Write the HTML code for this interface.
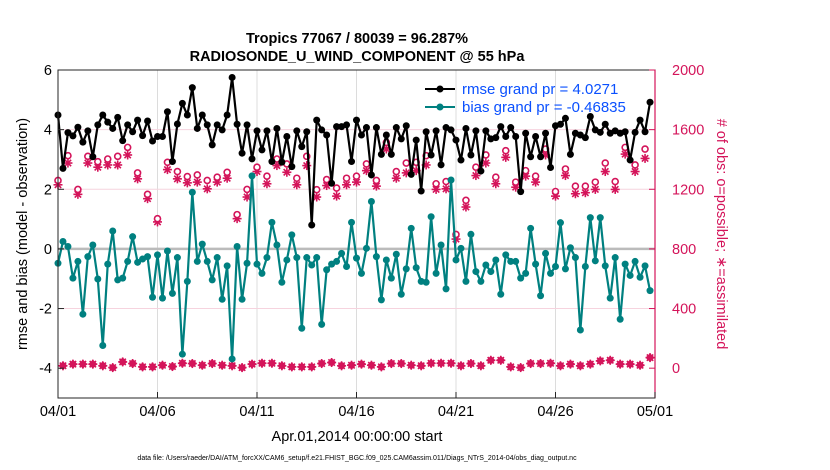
<!DOCTYPE html>
<html><head><meta charset="utf-8"><style>
body{margin:0;background:#fff;width:830px;height:470px;overflow:hidden}
svg{display:block;font-family:"Liberation Sans",sans-serif}
</style></head><body>
<svg id="chart" width="830" height="470" viewBox="0 0 830 470">
<g id="grid"></g>
<g id="series"></g>
<rect x="58" y="70" width="597" height="328" fill="none" stroke="#262626" stroke-width="1"/>
<line x1="655" y1="70" x2="655" y2="398" stroke="#d4145a" stroke-width="1.2"/>
<g id="axes"></g>
<text x="357" y="43" text-anchor="middle" font-size="14.5" font-weight="bold">Tropics 77067 / 80039 = 96.287%</text>
<text x="357" y="61" text-anchor="middle" font-size="14.5" font-weight="bold">RADIOSONDE_U_WIND_COMPONENT @ 55 hPa</text>
<text transform="translate(27,234) rotate(-90)" text-anchor="middle" font-size="14.5">rmse and bias (model - observation)</text>
<text transform="translate(717,234) rotate(90)" text-anchor="middle" font-size="14.5" fill="#d4145a"># of obs: o=possible; ∗=assimilated</text>
<text x="357" y="441" text-anchor="middle" font-size="14.5">Apr.01,2014 00:00:00 start</text>
<text x="357" y="460" text-anchor="middle" font-size="7">data file: /Users/raeder/DAI/ATM_forcXX/CAM6_setup/f.e21.FHIST_BGC.f09_025.CAM6assim.011/Diags_NTrS_2014-04/obs_diag_output.nc</text>
<g>
<line x1="425" y1="89" x2="455" y2="89" stroke="#000" stroke-width="2"/>
<circle cx="440" cy="89" r="3.5" fill="#000"/>
<text x="462" y="94" font-size="15" fill="#0a50ff">rmse grand pr = 4.0271</text>
<line x1="425" y1="107" x2="455" y2="107" stroke="#008080" stroke-width="2"/>
<circle cx="440" cy="107" r="3.5" fill="#008080"/>
<text x="462" y="112" font-size="15" fill="#0a50ff">bias grand pr = -0.46835</text>
</g>
</svg>
<script>
const rmse=[4.49,2.70,3.90,3.79,4.08,3.58,3.96,3.09,4.16,4.49,4.25,4.04,4.41,3.63,4.16,3.93,4.32,3.80,4.29,3.62,3.77,3.77,4.60,2.93,4.19,4.88,4.49,5.41,4.04,4.49,4.16,
3.49,4.16,3.99,4.49,5.75,4.18,3.21,4.16,3.02,3.96,3.32,3.96,2.93,4.04,2.91,3.77,2.76,3.96,3.43,3.93,0.80,4.32,3.99,3.82,2.20,4.10,4.10,4.16,2.93,4.32,
3.82,4.07,2.48,4.07,3.17,3.82,3.17,4.07,3.69,4.13,2.50,3.65,1.94,3.93,3.15,3.96,2.82,4.07,3.99,3.65,2.98,4.04,3.15,3.96,2.61,3.96,3.69,3.73,4.10,3.77,
4.07,3.77,1.92,3.88,3.09,3.77,3.09,3.88,2.73,4.13,4.18,4.38,3.17,3.88,3.82,3.73,4.44,3.99,3.91,4.18,3.88,3.96,3.88,3.93,2.98,3.91,4.32,3.93,4.92];
const bias=[-0.48,0.25,0.08,-0.98,-0.42,-2.19,-0.26,0.13,-1.01,-3.24,-0.51,0.60,-1.04,-0.98,-0.42,0.41,-0.45,-0.34,-0.26,-1.62,-0.20,-1.65,-0.07,-1.49,-0.29,-3.53,-1.09,1.90,-0.42,0.16,-0.42,
-1.04,-0.29,-1.69,-0.57,-3.69,0.08,-1.69,-0.48,2.45,-0.51,-0.82,-0.29,0.89,0.13,-1.12,-0.37,0.47,-0.29,-2.66,-0.29,-0.54,-0.29,-2.53,-0.70,-0.51,-0.42,-0.15,-0.59,0.89,-0.31,
-0.82,0.02,1.59,-0.26,-1.71,-0.37,-0.98,-0.18,-1.52,-0.67,0.69,-0.63,-1.09,-1.12,1.08,-0.82,0.13,-1.34,2.31,-0.37,0.02,-1.09,0.49,-0.76,-1.09,-0.54,-0.76,-0.37,-1.52,-0.20,
-0.42,-0.42,-0.98,-0.82,0.69,-0.51,-1.57,-0.15,-0.82,-0.59,0.88,-0.67,0.04,-0.29,-2.72,-0.59,1.05,-0.40,1.05,-0.57,-1.65,-0.29,-2.36,-0.51,-0.89,-0.42,-0.95,-0.57,-1.40];
// counts at 00Z/12Z (even index) and 06Z/18Z (odd index)
const possEven=[1259,1425,1199,1421,1385,1403,1421,1481,1310,1166,1003,1381,1319,1285,1296,1259,1281,1314,1030,1199,1348,1288,1403,1370,1274,1421,1197,1265,1208,1274,1288,1370,1259,1514,1319,1376,1381,1425,1237,1252,897,1126,1348,1430,1281,1459,1248,1325,1288,1470,1185,1336,1221,1221,1248,1376,1252,1481,1363,1470];
const assimEven=[1230,1376,1166,1376,1348,1363,1363,1430,1270,1137,981,1332,1270,1243,1248,1203,1248,1274,1003,1148,1319,1237,1359,1314,1230,1359,1148,1225,1154,1230,1248,1325,1221,1470,1274,1310,1325,1363,1199,1203,866,1081,1292,1376,1237,1414,1214,1288,1248,1430,1154,1292,1170,1177,1199,1319,1199,1436,1319,1407];
const countOdd=[16,27,27,27,16,4,42,31,9,9,20,11,33,31,20,31,20,16,4,27,33,33,16,9,9,9,31,38,16,20,27,20,9,31,31,20,16,33,33,33,16,31,16,53,53,9,4,31,31,33,16,27,16,27,49,53,27,27,20,71];
const xTicks=["04/01","04/06","04/11","04/16","04/21","04/26","05/01"];
const yTicks=[-4,-2,0,2,4,6];
const y2Ticks=[0,400,800,1200,1600,2000];

const X0=58,X1=655,Y0=70,Y1=398,NS="http://www.w3.org/2000/svg";
const xs=i=>X0+(X1-X0)*(i/4)/30;
const ys=v=>Y1-(v-(-5))/(11)*(Y1-Y0);
const ys2=c=>Y1-(c+200)/2200*(Y1-Y0);
const PINK="#d4145a",TEAL="#008080";
function mk(tag,attrs,parent){const e=document.createElementNS(NS,tag);for(const k in attrs)e.setAttribute(k,attrs[k]);parent.appendChild(e);return e;}
const grid=document.getElementById('grid'),ser=document.getElementById('series'),axes=document.getElementById('axes');
xTicks.forEach((t,k)=>{const x=X0+(X1-X0)*k/6;
 const g=mk('line',{x1:x,x2:x,y1:Y0,y2:Y1,stroke:'#dcdcdc','stroke-width':1},grid);
 
 
 mk('line',{x1:x,x2:x,y1:Y1,y2:Y1-6,stroke:'#262626'},axes);
 const tx=mk('text',{x:x,y:416,'text-anchor':'middle','font-size':14.5},axes);tx.textContent=t;
 
 });
y2Ticks.forEach(c=>{const y=ys2(c);
 if(c>0&&c<2000){const g=mk('line',{x1:X0,x2:X1,y1:y,y2:y,stroke:'#f6d3de','stroke-width':1},grid);
 
 }
 mk('line',{x1:X1,x2:X1-6,y1:y,y2:y,stroke:PINK},axes);
 const tx=mk('text',{x:672,y:y+5,'font-size':14.5,fill:PINK},axes);tx.textContent=c;
 
 });
const zl=mk('line',{x1:X0,x2:X1,y1:ys(0),y2:ys(0),stroke:'#bbb','stroke-width':2.5},grid);


yTicks.forEach(v=>{const y=ys(v);
 mk('line',{x1:X0,x2:X0+6,y1:y,y2:y,stroke:'#262626'},axes);
 const tx=mk('text',{x:52,y:y+5,'text-anchor':'end','font-size':14.5},axes);tx.textContent=v;
 
 });
// counts
function star(x,y,nm){const g=mk('g',{stroke:PINK,'stroke-width':1.6},ser);
 
 
 for(let a=0;a<4;a++){const t=a*Math.PI/4,dx=4.5*Math.cos(t),dy=4.5*Math.sin(t);mk('line',{x1:x-dx,y1:y-dy,x2:x+dx,y2:y+dy},g);}}
possEven.forEach((c,k)=>{const x=xs(2*k);
 star(x,ys2(assimEven[k]),'assimilated-count');
 const o=mk('circle',{cx:x,cy:ys2(c),r:3,fill:'#fff',stroke:PINK,'stroke-width':1.6},ser);
 
 });
countOdd.forEach((c,k)=>{const x=xs(2*k+1),y=ys2(c);
 star(x,y,'assimilated-count');
 const d=mk('path',{d:`M${x-4.5},${y}L${x},${y-4.5}L${x+4.5},${y}L${x},${y+4.5}Z`,fill:PINK},ser);
 
 });
function line(arr,col,nm){
 const p=mk('polyline',{points:arr.map((v,i)=>xs(i)+','+ys(v)).join(' '),fill:'none',stroke:col,'stroke-width':2.2,'stroke-linejoin':'round'},ser);
 
 
 arr.forEach((v,i)=>{const c=mk('circle',{cx:xs(i),cy:ys(v),r:3.5,fill:col},ser);
 
 });}
line(bias,TEAL,'bias');
line(rmse,'#000','rmse');
</script>
</body></html>
